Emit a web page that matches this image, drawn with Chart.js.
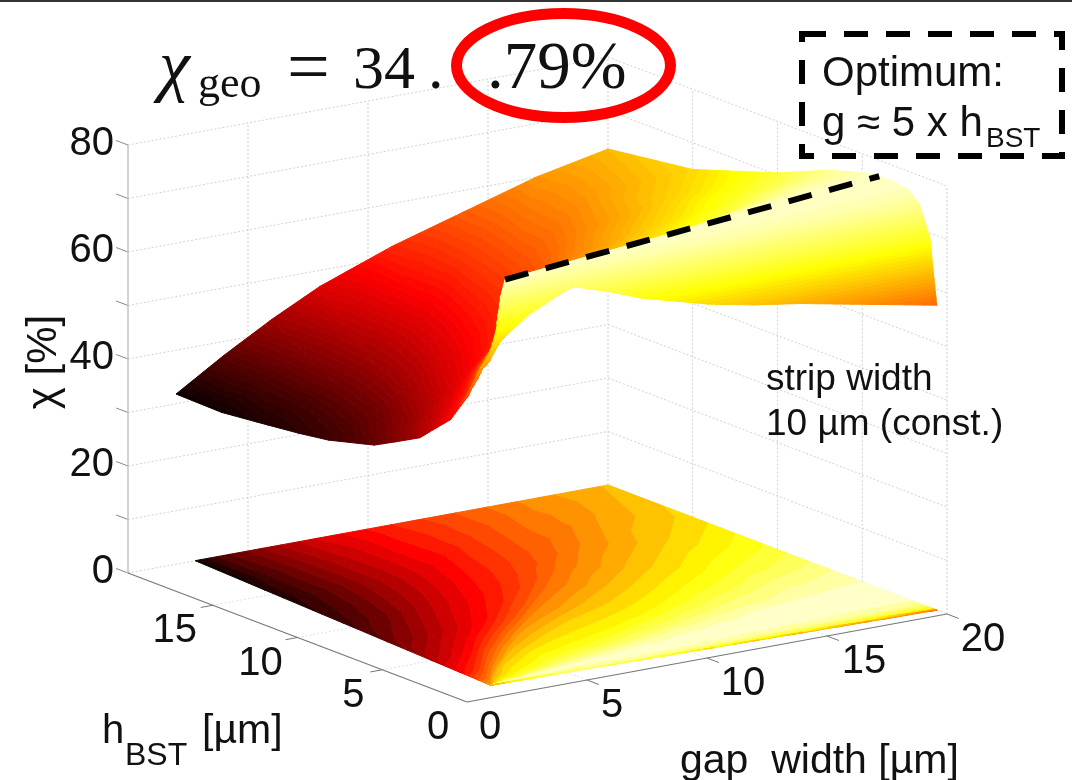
<!DOCTYPE html>
<html>
<head>
<meta charset="utf-8">
<title>chi geo</title>
<script src="https://cdn.jsdelivr.net/npm/chart.js@4"></script>
<style>
  html, body { margin: 0; padding: 0; background: #fff; }
  #chart { display: block; }
</style>
</head>
<body>
<canvas id="chart" width="1072" height="780"></canvas>
<script>
// tick labels
const chiTicks = [0, 20, 40, 60, 80]
const hTicks = [0, 5, 10, 15]
const gapTicks = [0, 5, 10, 15, 20]

// the surface is read along rays that fan out from the (g,h) corner near zero
const rayEndGap = [2, 4, 6, 8, 11, 14, 17, 20, 20, 20, 20, 20, 20, 20, 20, 20, 20, 20]
const rayEndH = [20, 20, 20, 20, 20, 20, 20, 20, 15, 10, 7, 5, 4, 3, 2.2, 1.6, 1, 0.6]
const rayStartGap = [1, 1, 1, 1, 1, 1, 1.15, 1.3, 1.45, 1.6, 1.7, 1.8, 1.85, 1.7, 1.55, 1.4, 1.2, 1]
const rayStartH = [0.6, 0.6, 0.6, 0.6, 0.6, 0.6, 0.56, 0.52, 0.48, 0.44, 0.41, 0.38, 0.37, 0.41, 0.45, 0.49, 0.55, 0.6]
const rayFrac = [0, 0.04, 0.1, 0.2, 0.28, 0.35, 0.5, 0.6, 0.7, 0.85, 1]

// chi [%] for each ray (rows) at each rayFrac (columns)
const chiValues = [
  [61, 54.8, 48.8, 43, 40.3, 38, 35.3, 34.2, 33.3, 32, 31.8],
  [61, 56, 50, 45, 42, 40, 37, 36, 35.5, 36, 37.4],
  [61, 56.5, 51, 46, 43.5, 41.5, 39, 38.8, 39, 40.5, 42.5],
  [61, 57, 52, 47.5, 45.2, 43.5, 42, 42, 42.5, 44.5, 47],
  [61, 57.5, 54, 50, 47.8, 46.5, 46, 46.2, 47, 49.5, 52],
  [61, 58.5, 57, 54, 51.5, 49.5, 49.5, 50.3, 51.5, 53.5, 56],
  [61, 61.5, 60, 58, 56, 54, 53, 53.8, 55, 57.5, 60],
  [62, 63, 64, 62, 60.5, 59, 57.5, 57.8, 58.5, 60.5, 62.8],
  [64, 65, 66, 66, 65.2, 64.5, 63, 62.8, 63, 64, 65],
  [67, 67, 68, 69, 68.5, 68, 67.5, 67.8, 68.5, 69.5, 70.4],
  [71, 71, 71, 72, 71.8, 71.5, 72, 72.5, 73, 74, 74.5],
  [75, 75, 74.5, 75, 75.2, 75.5, 76, 76.2, 76.5, 76.5, 76.5],
  [77, 77, 77, 77, 77, 77, 77, 77, 77, 77, 77],
  [74, 75, 76, 76.5, 76.8, 77, 77, 77, 77, 77, 77],
  [68, 71, 73.5, 75.5, 76.2, 76.5, 76.5, 76.5, 76.5, 76.5, 76.5],
  [65, 68, 71, 74, 75, 75.5, 75.5, 75.3, 75, 75, 74.5],
  [62, 66, 70, 73, 73.2, 73, 71.5, 71, 70.5, 70, 69],
  [61, 65, 69, 73, 70.8, 68.5, 65, 63.3, 62, 59.5, 57]
]

// optimum line g = 5 h
const ridgeGap = [1.85, 20]
const ridgeH = [0.37, 4]
const ridgeChi = [77, 77]

// the contour on the floor starts a bit further in than the surface
const floorStartGap = 1.9
const floorStartH = 1.3
const floorFirstEndGap = 2.8

// projection of the 3d box onto the page
const origin = { x: 467, y: 702 }
const gapStep = { x: 24, y: -4.4 }
const hStep = { x: -16.95, y: -6.45 }
const chiStep = -5.35
const chiMin = 31
const chiMax = 80
const surfaceLevels = 74
const floorLevels = 28

function project(g, h, chi) {
  return {
    x: origin.x + g * gapStep.x + h * hStep.x,
    y: origin.y + g * gapStep.y + h * hStep.y + chi * chiStep
  }
}

function hot(t) {
  t = Math.max(0, Math.min(1, t))
  let r = Math.min(1, t / 0.375)
  let g = Math.max(0, Math.min(1, (t - 0.375) / 0.375))
  let b = Math.max(0, (t - 0.75) / 0.25)
  return `rgb(${Math.round(r * 255)},${Math.round(g * 255)},${Math.round(b * 255)})`
}

// keep the part of a triangle where lo <= c <= hi
function clipBand(poly, lo, hi) {
  function cut(points, inside, limit) {
    let out = []
    points.forEach(function (p, i) {
      let q = points[(i + 1) % points.length]
      if (inside(p.c)) out.push(p)
      if (inside(p.c) !== inside(q.c)) {
        let s = (limit - p.c) / (q.c - p.c)
        out.push({ x: p.x + s * (q.x - p.x), y: p.y + s * (q.y - p.y), c: limit })
      }
    })
    return out
  }
  let a = cut(poly, c => c >= lo, lo)
  if (a.length < 3) return []
  return cut(a, c => c <= hi, hi)
}

function polygonDataset(points, color) {
  let closed = points.map(p => ({ x: p.x, y: p.y }))
  closed.push({ x: points[0].x, y: points[0].y })
  return {
    data: closed,
    showLine: true,
    pointRadius: 0,
    fill: 'shape',
    backgroundColor: color,
    borderColor: color,
    borderWidth: 1,
    tension: 0
  }
}

function lineDataset(a, b, color, width, dash) {
  return {
    data: [{ x: a.x, y: a.y }, { x: b.x, y: b.y }],
    showLine: true,
    pointRadius: 0,
    fill: false,
    borderColor: color,
    borderWidth: width,
    borderDash: dash || [],
    tension: 0
  }
}

// mesh vertex of ray r at fraction index f, either on the floor or on the surface
function vertex(r, f, onFloor) {
  let frac = rayFrac[f]
  let chi = chiValues[r][f]
  if (onFloor) {
    let endG = r === 0 ? floorFirstEndGap : rayEndGap[r]
    let g = floorStartGap + frac * (endG - floorStartGap)
    let h = floorStartH + frac * (rayEndH[r] - floorStartH)
    let p = project(g, h, 0)
    return { x: p.x, y: p.y, c: chi, depth: p.y }
  }
  let g = rayStartGap[r] + frac * (rayEndGap[r] - rayStartGap[r])
  let h = rayStartH[r] + frac * (rayEndH[r] - rayStartH[r])
  let p = project(g, h, chi)
  return { x: p.x, y: p.y, c: chi, depth: project(g, h, 0).y }
}

function meshDatasets(onFloor, levels) {
  let cells = []
  for (let r = 0; r < chiValues.length - 1; r++) {
    for (let f = 0; f < rayFrac.length - 1; f++) {
      let a = vertex(r, f, onFloor)
      let b = vertex(r + 1, f, onFloor)
      let c = vertex(r + 1, f + 1, onFloor)
      let d = vertex(r, f + 1, onFloor)
      cells.push({ tri: [a, b, c], depth: (a.depth + b.depth + c.depth) / 3 })
      cells.push({ tri: [a, c, d], depth: (a.depth + c.depth + d.depth) / 3 })
    }
  }
  // far cells first
  cells.sort((p, q) => p.depth - q.depth)
  let out = []
  let step = (chiMax - chiMin) / levels
  cells.forEach(function (cell) {
    for (let i = 0; i < levels; i++) {
      let lo = chiMin + i * step
      let part = clipBand(cell.tri, lo, lo + step)
      if (part.length >= 3) out.push(polygonDataset(part, hot((i + 0.5) / levels)))
    }
  })
  return out
}

function boxDatasets() {
  let out = []
  let grid = '#d0d0d0'
  let dots = [2, 2]
  for (let chi = 0; chi <= 80; chi += 10) {
    out.push(lineDataset(project(0, 20, chi), project(20, 20, chi), grid, 1, dots))
    out.push(lineDataset(project(20, 20, chi), project(20, 0, chi), grid, 1, dots))
    out.push(lineDataset(project(0, 20, chi), project(0, 20.7, chi), '#888888', 1))
  }
  for (let v = 5; v <= 20; v += 5) {
    out.push(lineDataset(project(v, 20, 0), project(v, 20, 80), grid, 1, dots))
    out.push(lineDataset(project(20, 20 - v, 0), project(20, 20 - v, 80), grid, 1, dots))
    if (v < 20) {
      out.push(lineDataset(project(v, 0, 0), project(v, 20, 0), '#e0e0e0', 1, dots))
      out.push(lineDataset(project(0, v, 0), project(20, v, 0), '#e0e0e0', 1, dots))
    }
    out.push(lineDataset(project(v, 0, 0), project(v, -0.7, 0), '#777777', 1))
    if (v < 20) out.push(lineDataset(project(0, v, 0), project(-0.5, v, 0), '#777777', 1))
  }
  out.push(lineDataset(project(0, 20, 0), project(0, 20, 80), '#c4c4c4', 1.5))
  out.push(lineDataset(project(0, 0, 0), project(0, 20, 0), '#777777', 1.2))
  out.push(lineDataset(project(0, 0, 0), project(20, 0, 0), '#777777', 1.2))
  return out
}

function ridgeDataset() {
  let a = project(ridgeGap[0], ridgeH[0], ridgeChi[0])
  let b = project(ridgeGap[1], ridgeH[1], ridgeChi[1])
  return lineDataset(a, b, '#000000', 6, [24, 18])
}

// painter's order, first entry is the one at the back
let layers = []
layers.push(lineDataset({ x: 0, y: 1 }, { x: 1072, y: 1 }, '#333333', 2))
layers = layers.concat(boxDatasets(), meshDatasets(true, floorLevels), meshDatasets(false, surfaceLevels))
layers.push(ridgeDataset())

const annotationPlugin = {
  id: 'annotations',
  afterDraw(chart) {
    let ctx = chart.ctx
    let xs = chart.scales.x
    let ys = chart.scales.y
    function text(str, x, y, font, align, base) {
      ctx.font = font
      ctx.textAlign = align || 'left'
      ctx.textBaseline = base || 'alphabetic'
      ctx.fillStyle = '#111'
      ctx.fillText(str, xs.getPixelForValue(x), ys.getPixelForValue(y))
    }
    ctx.save()
    let tickFont = '40px "Liberation Sans"'
    chiTicks.forEach(function (t) {
      let p = project(0, 20, t)
      text(String(t), 114, p.y - 1, tickFont, 'right', 'middle')
    })
    let hLabelDx = [-29, -29, -37, -38]
    hTicks.forEach(function (t, i) {
      let p = project(0, t, 0)
      text(String(t), p.x + hLabelDx[i], p.y + 26, tickFont, 'center', 'middle')
    })
    let gapLabelDx = [23, 25, 36, 37, 36]
    gapTicks.forEach(function (t, i) {
      let p = project(t, 0, 0)
      text(String(t), p.x + gapLabelDx[i], p.y + 26, tickFont, 'center', 'middle')
    })

    text('gap  width [µm]', 680, 773, '41px "Liberation Sans"')
    text('h', 102, 743, '40px "Liberation Sans"')
    text('BST', 125, 765, '32px "Liberation Sans"')
    text('[µm]', 202, 743, '41px "Liberation Sans"')

    ctx.save()
    ctx.translate(56, 362)
    ctx.rotate(-Math.PI / 2)
    ctx.font = '42px "Liberation Sans"'
    ctx.textAlign = 'center'
    ctx.fillStyle = '#111'
    ctx.fillText('χ [%]', 0, 0)
    ctx.restore()

    text('strip width', 766, 390, '37px "Liberation Sans"')
    text('10 µm (const.)', 766, 435, '37px "Liberation Sans"')

    // title, computer modern look
    let serif = '"Liberation Serif"'
    text('χ', 159, 88, 'italic 70px ' + serif)
    text('geo', 198, 97, '44px ' + serif)
    text('=', 287, 92, '76px ' + serif)
    text('34', 353, 88, '62px ' + serif)
    text('.', 428, 88, '62px ' + serif)
    text('.79%', 487, 88, '67px ' + serif)

    // red ellipse around the decimals
    ctx.beginPath()
    ctx.ellipse(563.5, 65.5, 107, 52, 0, 0, Math.PI * 2)
    ctx.strokeStyle = '#ff0000'
    ctx.lineWidth = 11
    ctx.stroke()

    // optimum box
    ctx.beginPath()
    ctx.setLineDash([24, 18])
    ctx.rect(802, 34, 260, 122)
    ctx.strokeStyle = '#000'
    ctx.lineWidth = 6
    ctx.stroke()
    ctx.setLineDash([])
    text('Optimum:', 822, 86, '42px "Liberation Sans"')
    text('g ≈ 5 x h', 822, 136, '42px "Liberation Sans"')
    text('BST', 986, 147, '28px "Liberation Sans"')
    ctx.restore()
  }
}

// Chart.js paints the first dataset on top, so hand them over back to front reversed
new Chart(document.querySelector('#chart'), {
  type: 'scatter',
  data: { datasets: layers.reverse() },
  plugins: [annotationPlugin],
  options: {
    responsive: false,
    animation: false,
    events: [],
    layout: { padding: 0 },
    plugins: { legend: { display: false }, tooltip: { enabled: false } },
    scales: {
      x: { type: 'linear', min: 0, max: 1072, display: false },
      y: { type: 'linear', min: 0, max: 780, reverse: true, display: false }
    }
  }
})
</script>
</body>
</html>
